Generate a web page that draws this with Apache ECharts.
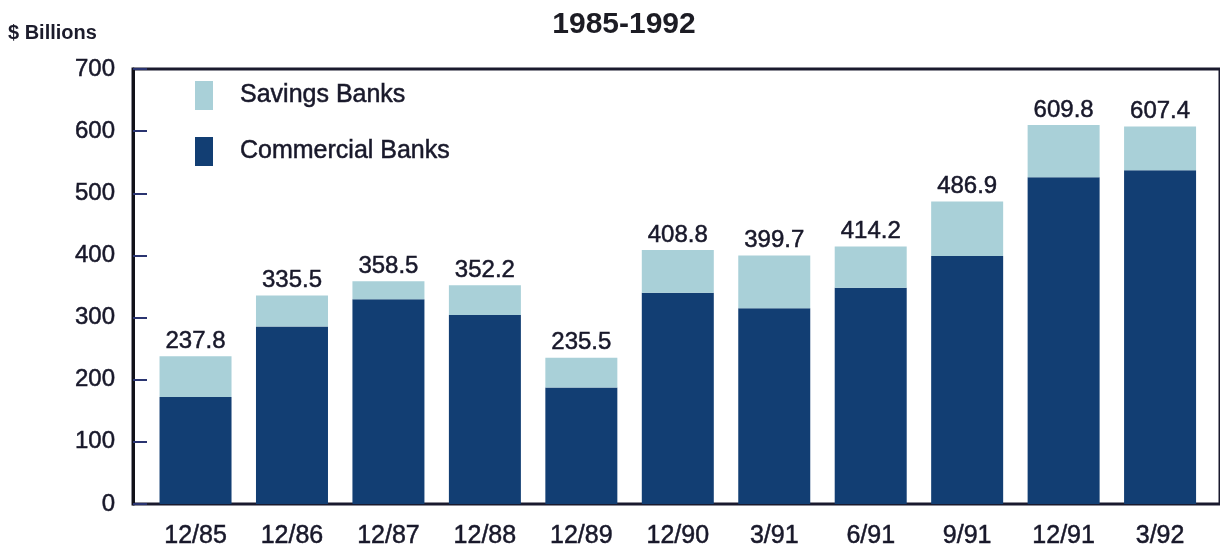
<!DOCTYPE html>
<html>
<head>
<meta charset="utf-8">
<script src="https://cdn.jsdelivr.net/npm/echarts@6/dist/echarts.min.js"></script>
<style>
  html, body { margin: 0; padding: 0; background: #ffffff; }
  #chart { width: 1220px; height: 550px; }
</style>
</head>
<body>
<div id="chart"></div>
<script>
// Values ($ billions)
const categories = ["12/85", "12/86", "12/87", "12/88", "12/89", "12/90", "3/91", "6/91", "9/91", "12/91", "3/92"];
const totals = [237.8, 335.5, 358.5, 352.2, 235.5, 408.8, 399.7, 414.2, 486.9, 609.8, 607.4];
const commercial = [172, 285.5, 329.5, 304, 187.5, 340, 315, 348, 399, 526, 537];
const savings = totals.map((t, i) => +(t - commercial[i]).toFixed(1));
const yTicks = [0, 100, 200, 300, 400, 500, 600, 700];

const font = "'Liberation Sans', Arial, Helvetica, sans-serif";
const textColor = "#18182a";
const darkBlue = "#123e73";
const lightBlue = "#a9d0d8";

// printed text looks a bit heavier than regular weight
const heavy = { textBorderColor: textColor, textBorderWidth: 0.5 };

const chart = echarts.init(document.getElementById("chart"));

const option = {
  animation: false,
  backgroundColor: "#ffffff",
  textStyle: { fontFamily: font },
  title: [
    {
      text: "1985-1992",
      left: 619,
      top: 5,
      textAlign: "center",
      textStyle: { fontSize: 30, fontWeight: "bold", color: "#1c1c24", fontFamily: font },
    },
    {
      text: "$ Billions",
      left: 3,
      top: 18,
      textStyle: { fontSize: 20, fontWeight: "bold", color: "#1c1c2c", fontFamily: font },
    },
  ],
  legend: {
    orient: "vertical",
    left: 190,
    top: 76,
    itemWidth: 18,
    itemHeight: 29,
    itemGap: 27,
    icon: "rect",
    data: ["Savings Banks", "Commercial Banks"],
    textStyle: { fontSize: 25, color: textColor, fontFamily: font, padding: [0, 0, 0, 22], ...heavy },
  },
  grid: [
    // frame + value axis
    { left: 133, top: 69, width: 1092, height: 435, show: true, borderColor: "#1a1a2e", borderWidth: 3, backgroundColor: "transparent" },
    // bars
    { left: 147.3, top: 69, width: 1061, height: 435 },
  ],
  xAxis: [
    { gridIndex: 0, type: "value", min: 0, max: 1, show: false },
    {
      gridIndex: 1,
      type: "category",
      data: categories,
      axisLine: { show: false },
      axisTick: { show: false },
      axisLabel: { fontSize: 25, color: textColor, margin: 20, fontFamily: font, ...heavy },
    },
  ],
  yAxis: [
    {
      gridIndex: 0,
      type: "value",
      min: 0,
      max: 700,
      interval: 100,
      axisLine: { show: true, lineStyle: { color: "#111118", width: 3 } },
      axisTick: { show: true, inside: true, length: 14, lineStyle: { color: "#2a3470", width: 2 } },
      splitLine: { show: false },
      axisLabel: {
        fontSize: 24,
        color: textColor,
        margin: 18,
        fontFamily: font,
        ...heavy,
        formatter: (v) => (yTicks.includes(v) ? String(v) : ""),
      },
    },
    { gridIndex: 1, type: "value", min: 0, max: 700, show: false },
  ],
  series: [
    {
      name: "Commercial Banks",
      type: "bar",
      stack: "total",
      xAxisIndex: 1,
      yAxisIndex: 1,
      barWidth: 72,
      data: commercial,
      itemStyle: { color: darkBlue },
    },
    {
      name: "Savings Banks",
      type: "bar",
      stack: "total",
      xAxisIndex: 1,
      yAxisIndex: 1,
      barWidth: 72,
      data: savings,
      itemStyle: { color: lightBlue },
      label: {
        show: true,
        position: "top",
        distance: 3,
        fontSize: 24,
        color: textColor,
        fontFamily: font,
        ...heavy,
        formatter: (p) => totals[p.dataIndex].toFixed(1),
      },
    },
  ],
};

chart.setOption(option);
</script>
</body>
</html>
